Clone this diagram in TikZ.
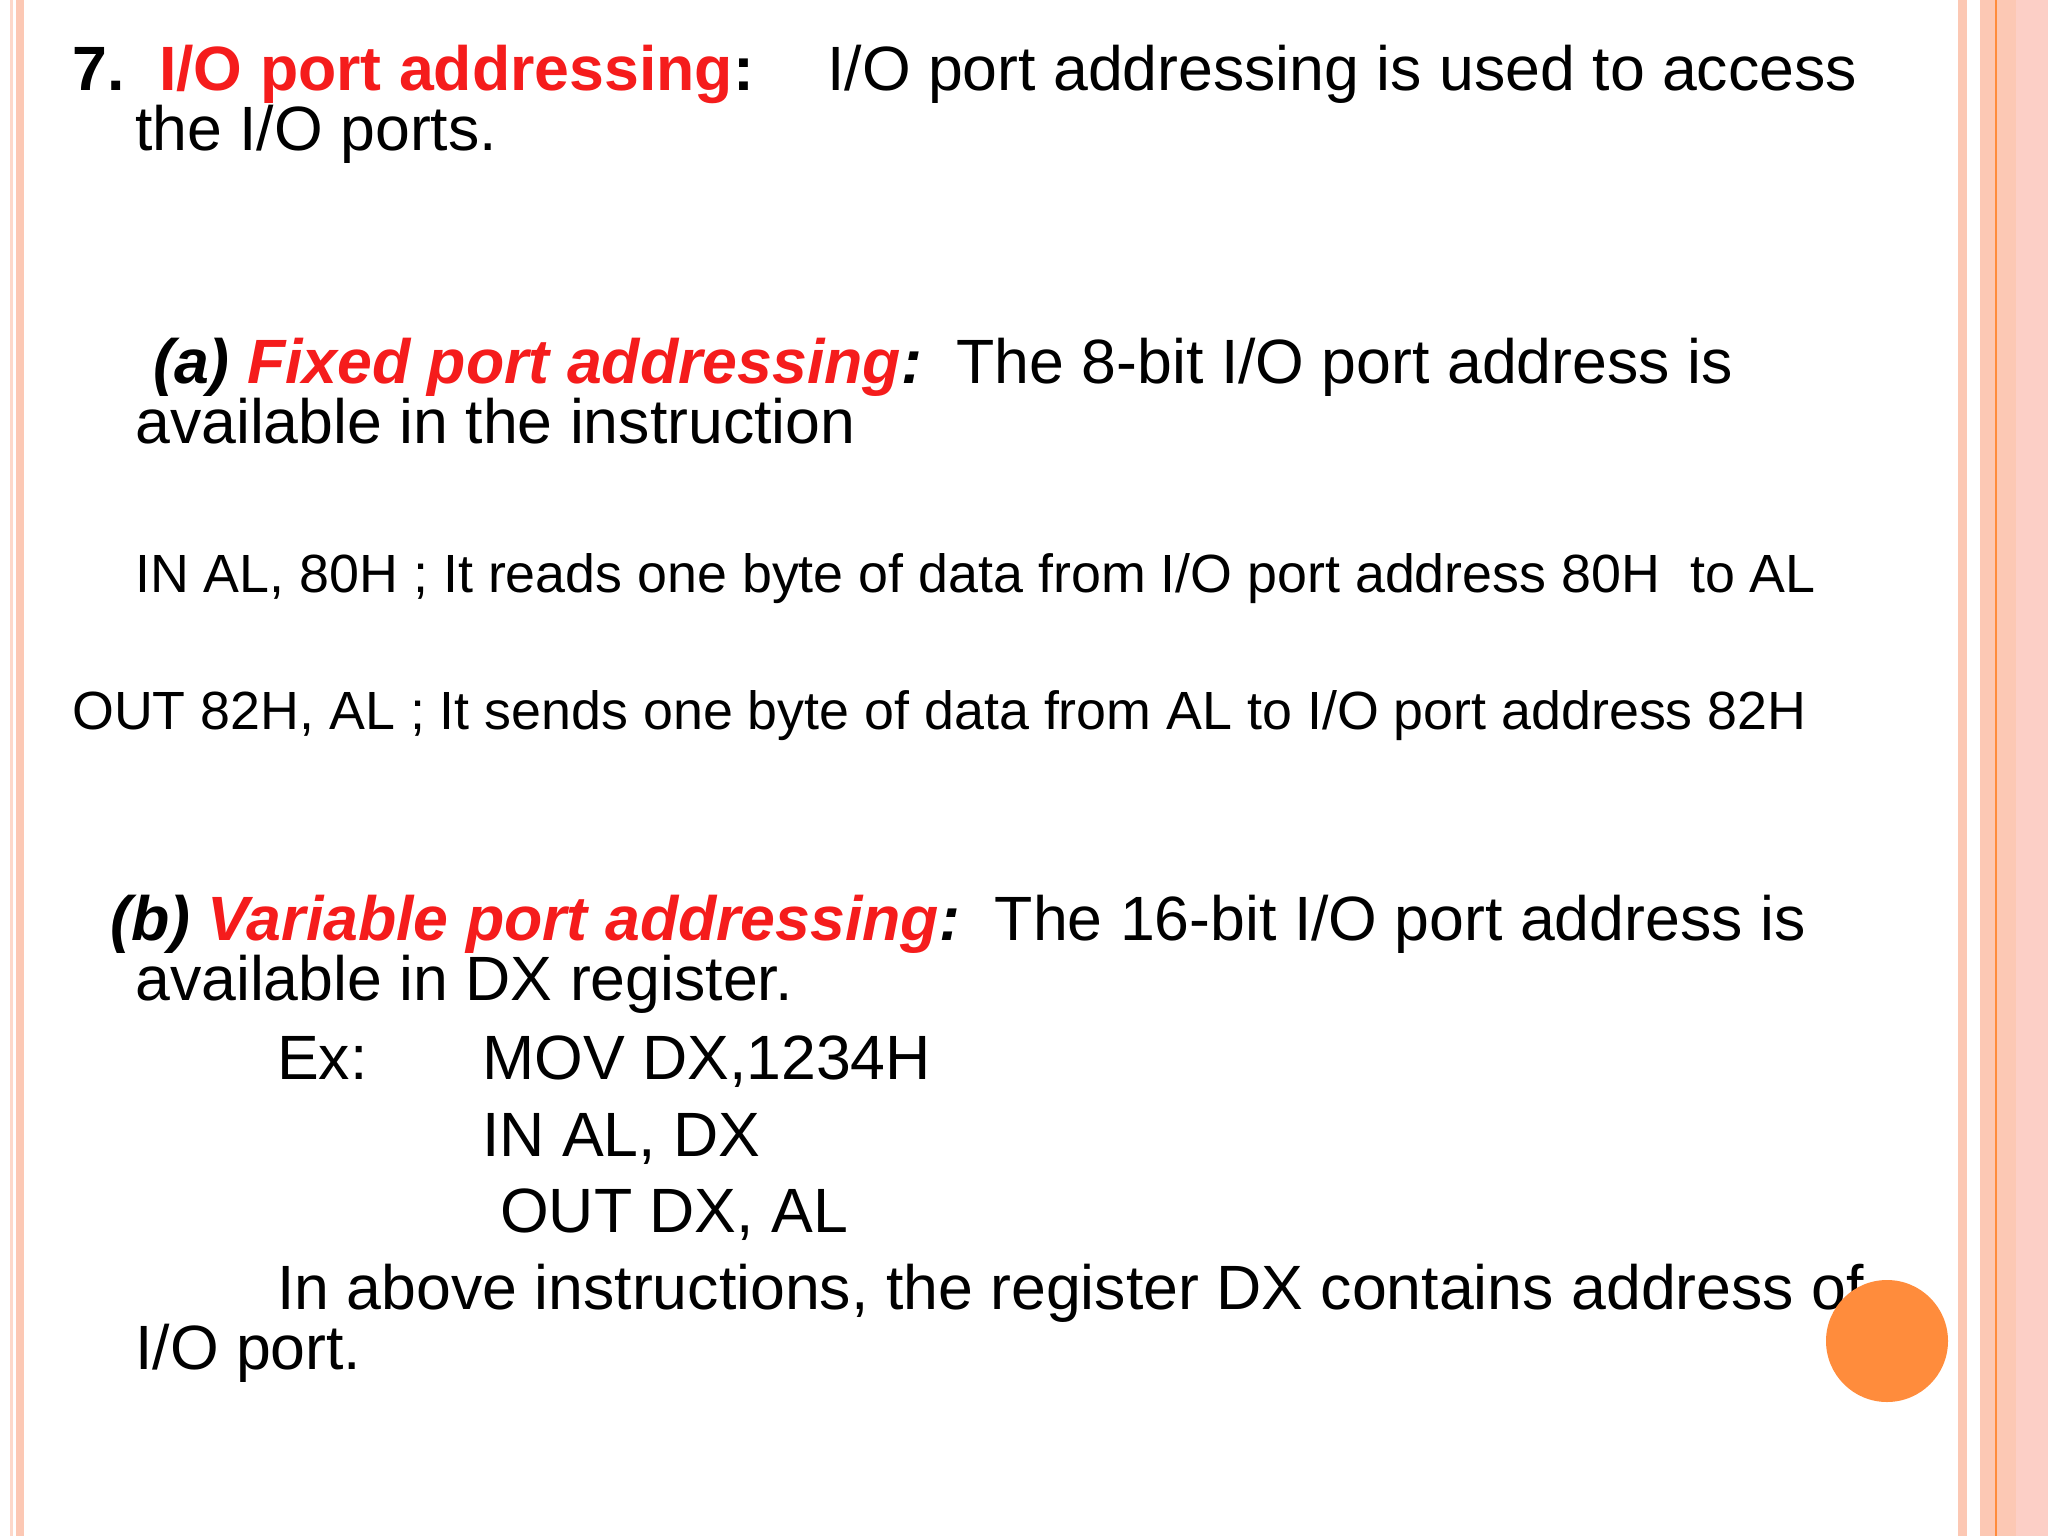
\documentclass[tikz,border=0pt]{standalone}
\usepackage{fontspec}
\setmainfont{Liberation Sans}
\definecolor{pk}{HTML}{FCC8B4}
\definecolor{or}{HTML}{FF8C3C}
\definecolor{rd}{HTML}{F51C1C}
\begin{document}
\begin{tikzpicture}[x=1pt,y=-1pt,
 big/.style={anchor=base west,inner sep=0pt,font=\fontsize{62.6}{70}\selectfont},
 sm/.style={anchor=base west,inner sep=0pt,font=\fontsize{53.8}{60}\selectfont}]
\useasboundingbox (0,0) rectangle (2048,1536);
\fill[white] (0,0) rectangle (2048,1536);
% borders
\fill[pk!70] (10,0) rectangle (13,1536);
\fill[pk] (16,0) rectangle (24,1536);
\fill[pk] (1958,0) rectangle (1967,1536);
\fill[pk] (1980,0) rectangle (2048,1536);
\fill[pk!110!orange] (2016,0) rectangle (2048,1536);
\draw[or,line width=1.5] (1996,0) -- (1996,1536);
\node[big] (t1) at (72,91) {\textbf{7.\ \ \textcolor{rd}{I/O port addressing}:}};
\node[big] (t1b) at (827,91) {I/O port addressing is used to access};
\node[big] (t2) at (135,150) {the I/O ports.};
\node[big] (a1) at (153,383) {\textbf{\itshape (a) \textcolor{rd}{Fixed port addressing}:}\ \ The 8-bit I/O port address is};
\node[big] (a2) at (135,443) {available in the instruction};
\node[sm] (in1) at (135,592) {IN AL, 80H ; It reads one byte of data from I/O port address 80H\ \ to AL};
\node[sm] (out1) at (72,729) {OUT 82H, AL ; It sends one byte of data from AL to I/O port address 82H};
\node[big] (b1) at (110,940) {\textbf{\itshape (b) \textcolor{rd}{Variable port addressing}:}\ \ The 16-bit I/O port address is};
\node[big] (b2) at (135,1000) {available in DX register.};
\node[big] (ex) at (277,1079) {Ex:};
\node[big] (m1) at (482,1079) {MOV DX,1234H};
\node[big] (m2) at (482,1156) {IN AL, DX};
\node[big] (m3) at (500,1232) {OUT DX, AL};
\node[big] (c1) at (277,1309) {In above instructions, the register DX contains address of};
\node[big] (c2) at (135,1369) {I/O port.};
\fill[or] (1887,1341) circle (61);
\end{tikzpicture}
\end{document}
